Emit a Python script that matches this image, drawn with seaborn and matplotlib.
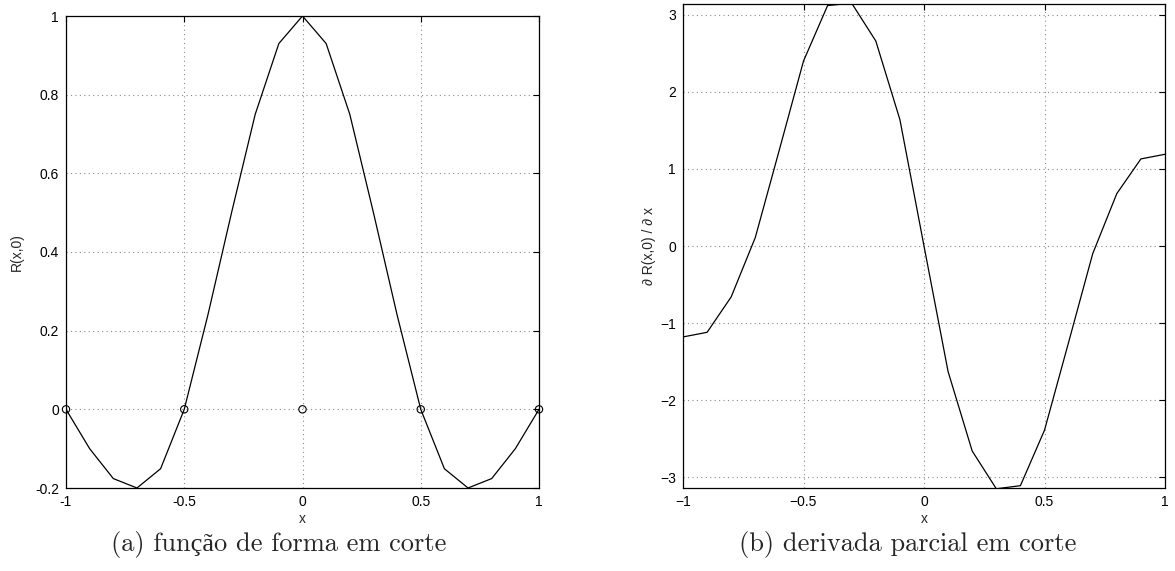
import numpy as np
import pandas as pd
import seaborn as sns
import matplotlib
matplotlib.use("Agg")
import matplotlib.pyplot as plt

# sample positions along the cut (y = 0)
x_vals = [-1.0, -0.9, -0.8, -0.7, -0.6, -0.5, -0.4, -0.3, -0.2, -0.1, 0.0,
          0.1, 0.2, 0.3, 0.4, 0.5, 0.6, 0.7, 0.8, 0.9, 1.0]

# (a) shape function R(x,0)
r_vals = [0.0, -0.10, -0.176, -0.20, -0.151, 0.0, 0.24, 0.50, 0.75, 0.93, 1.0,
          0.93, 0.75, 0.50, 0.24, 0.0, -0.151, -0.20, -0.176, -0.10, 0.0]

# nodes marked with circles
node_x = [-1.0, -0.5, 0.0, 0.5, 1.0]
node_y = [0.0, 0.0, 0.0, 0.0, 0.0]

# (b) partial derivative dR(x,0)/dx
dr_vals = [-1.18, -1.12, -0.66, 0.11, 1.25, 2.40, 3.12, 3.15, 2.66, 1.64, 0.0,
           -1.63, -2.66, -3.15, -3.11, -2.39, -1.25, -0.10, 0.68, 1.13, 1.19]

# tick labels
x_ticks = [-1, -0.5, 0, 0.5, 1]
a_xlabels = ["-1", "-0.5", "0", "0.5", "1"]
a_yticks = [-0.2, 0, 0.2, 0.4, 0.6, 0.8, 1]
a_ylabels = ["-0.2", "0", "0.2", "0.4", "0.6", "0.8", "1"]
b_xlabels = ["\u22121", "\u22120.5", "0", "0.5", "1"]
b_yticks = [-3, -2, -1, 0, 1, 2, 3]
b_ylabels = ["\u22123", "\u22122", "\u22121", "0", "1", "2", "3"]

captions = ["(a) função de forma em corte", "(b) derivada parcial em corte"]

sns.set_style("white")
plt.rcParams["font.family"] = ["Liberation Sans", "DejaVu Sans"]

df = pd.DataFrame({"x": x_vals, "R": r_vals, "dR": dr_vals})
nodes = pd.DataFrame({"x": node_x, "y": node_y})

fig = plt.figure(figsize=(11.75, 5.71), dpi=100)
ax1 = fig.add_axes([66 / 1175, 1 - 488 / 571, 473 / 1175, 472 / 571])
ax2 = fig.add_axes([683 / 1175, 1 - 488 / 571, 482 / 1175, 484 / 571])


def style_axes(ax):
    ax.grid(True, color="#8c8c8c", linestyle=(0, (1, 3)), linewidth=0.8)
    ax.tick_params(direction="in", length=4, width=0.8, labelsize=10,
                   top=True, right=True, pad=5, colors="black")
    for s in ax.spines.values():
        s.set_visible(True)
        s.set_color("black")
        s.set_linewidth(0.9)
    ax.set_axisbelow(True)


sns.lineplot(data=df, x="x", y="R", ax=ax1, color="black", linewidth=0.9)
sns.scatterplot(data=nodes, x="x", y="y", ax=ax1, marker="o", s=28,
                facecolor="none", edgecolor="black", linewidth=0.8, zorder=5,
                clip_on=False)
ax1.set_xlim(-1, 1)
ax1.set_ylim(-0.2, 1)
ax1.set_xticks(x_ticks)
ax1.set_xticklabels(a_xlabels)
ax1.set_yticks(a_yticks)
ax1.set_yticklabels(a_ylabels)
ax1.set_xlabel("x", fontsize=10, labelpad=2)
ax1.set_ylabel("R(x,0)", fontsize=10, labelpad=8)
style_axes(ax1)

sns.lineplot(data=df, x="x", y="dR", ax=ax2, color="black", linewidth=0.9)
ax2.set_xlim(-1, 1)
ax2.set_ylim(-3.14, 3.14)
ax2.set_xticks(x_ticks)
ax2.set_xticklabels(b_xlabels)
ax2.set_yticks(b_yticks)
ax2.set_yticklabels(b_ylabels)
ax2.set_xlabel("x", fontsize=10, labelpad=2)
ax2.set_ylabel("\u2202 R(x,0) / \u2202 x", fontsize=10, labelpad=3)
style_axes(ax2)

fig.text(279 / 1175, 1 - 545 / 571, captions[0], ha="center", va="center",
         fontsize=19, family=["cmr10", "Liberation Serif"])
fig.text(908 / 1175, 1 - 545 / 571, captions[1], ha="center", va="center",
         fontsize=19, family=["cmr10", "Liberation Serif"])

fig.savefig("out.png", dpi=100)
